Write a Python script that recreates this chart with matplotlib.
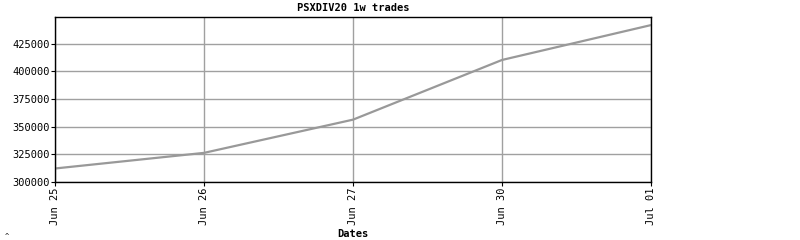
import matplotlib
matplotlib.use('Agg')
import matplotlib.pyplot as plt

dates = ['Jun 25', 'Jun 26', 'Jun 27', 'Jun 30', 'Jul 01']
trades = [312200, 326300, 356300, 410200, 441700]
yticks = [300000, 325000, 350000, 375000, 400000, 425000]

plt.rcParams['font.family'] = 'DejaVu Sans Mono'

fig = plt.figure(figsize=(8, 2.4), dpi=100)
ax = fig.add_axes([55/800, 1 - 182/240, (651 - 55)/800, (182 - 17)/240])

x = list(range(len(dates)))
ax.plot(x, trades, color='#999999', linewidth=1.6)

ax.set_xlim(0, len(dates) - 1)
ax.set_ylim(300000, 449000)
ax.set_xticks(x)
ax.set_xticklabels(dates, rotation=90, fontsize=7.5)
ax.set_yticks(yticks)
ax.set_yticklabels([str(v) for v in yticks], fontsize=7.5)
ax.grid(True, color='#a0a0a0', linewidth=1)
ax.set_axisbelow(True)
for s in ax.spines.values():
    s.set_linewidth(1)
    s.set_color('black')
ax.tick_params(length=3, width=0.8, pad=1)

ax.set_title('PSXDIV20 1w trades', fontsize=7.5, fontweight='bold', pad=4)
ax.set_xlabel('Dates', fontsize=7.5, fontweight='bold', labelpad=3)
fig.text(5/800, 2/240, '^', fontsize=5)

fig.savefig('out.png', dpi=100)
